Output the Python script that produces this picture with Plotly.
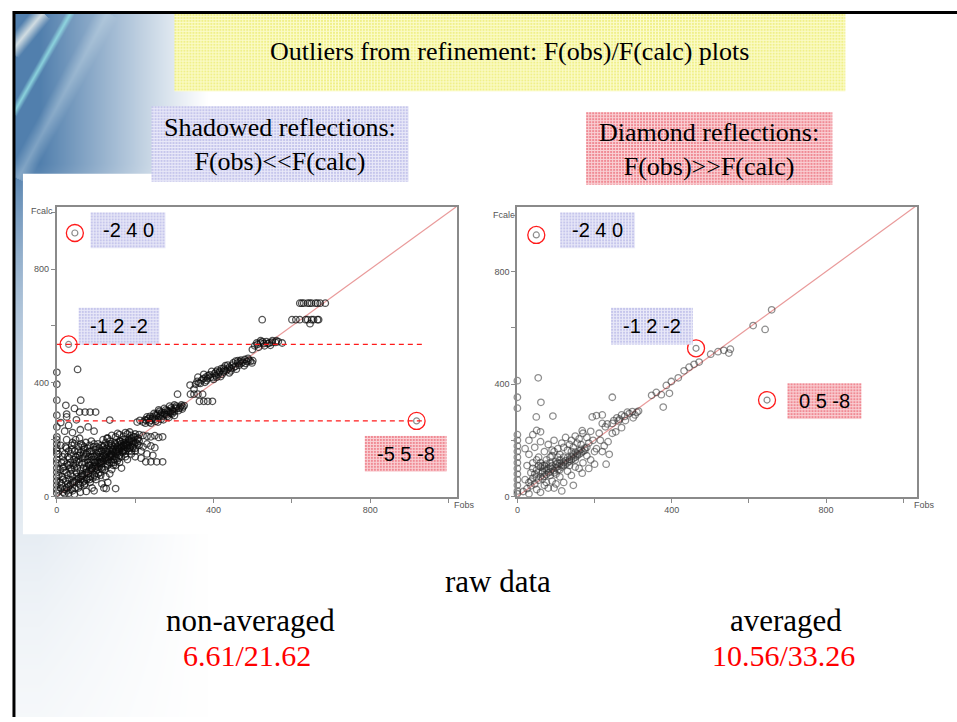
import base64
import struct
import zlib

import numpy as np
import plotly.graph_objects as go

W, H = 957, 722

# ---------------- data: (Fobs, Fcalc) pairs ----------------
# non-averaged data (left panel)
raw_axis_col = [(0, 12), (0, 25), (0, 40), (0, 55), (0, 70), (0, 85), (0, 100), (0, 118),
                (0, 130), (0, 150), (0, 160), (0, 170), (0, 185), (0, 200), (0, 210),
                (0, 245), (0, 286), (0, 339), (0, 395), (0, 437), (4, 150), (5, 75)]
raw_blob = [(10, 30), (15, 60), (18, 90), (12, 120), (20, 150), (22, 175), (25, 200), (28, 45),
            (30, 110), (32, 135), (35, 80), (38, 165), (40, 190), (42, 55), (45, 100), (48, 140),
            (50, 125), (52, 70), (55, 160), (58, 205), (60, 90), (62, 60), (65, 115), (68, 150),
            (70, 175), (72, 45), (75, 95), (78, 130), (80, 80), (82, 110), (85, 160), (88, 140),
            (90, 100), (92, 65), (95, 185), (98, 120), (100, 90), (102, 150), (105, 105), (108, 170),
            (110, 130), (112, 75), (115, 115), (118, 200), (120, 145), (122, 95), (125, 160),
            (128, 125), (130, 110), (132, 180), (135, 140), (138, 150), (140, 120), (142, 165),
            (145, 130), (148, 190), (150, 150), (152, 135), (155, 175), (158, 160), (160, 145),
            (162, 195), (165, 170), (168, 155), (170, 180), (172, 165), (175, 200), (178, 185),
            (180, 170), (185, 190), (188, 175), (190, 205), (195, 195), (198, 185), (200, 210),
            (205, 200), (210, 195), (15, 140), (25, 170), (35, 120), (45, 185), (55, 130),
            (65, 180), (75, 150), (85, 125), (95, 140), (105, 185), (115, 160), (125, 190),
            (18, 105), (28, 75), (38, 95), (48, 115), (58, 145), (68, 100), (78, 170), (88, 195),
            (98, 165), (108, 140), (118, 175), (128, 205), (138, 185), (8, 50), (8, 95), (10, 180)]
raw_blob_core = [(5, 20), (12, 45), (14, 70), (16, 100), (18, 125), (22, 55), (24, 85), (26, 115),
                 (28, 140), (30, 160), (32, 60), (34, 100), (36, 150), (38, 180), (40, 70),
                 (42, 110), (44, 130), (46, 160), (48, 200), (50, 85), (52, 100), (54, 145),
                 (56, 175), (58, 120), (60, 155), (62, 185), (64, 80), (66, 135), (68, 165),
                 (70, 120), (72, 140), (74, 190), (76, 105), (78, 155), (80, 120), (82, 140),
                 (84, 180), (86, 110), (88, 160), (90, 130), (92, 150), (94, 175), (96, 120),
                 (98, 100), (100, 140), (102, 175), (104, 125), (106, 155), (108, 120), (110, 160),
                 (112, 140), (114, 180), (116, 135), (118, 150), (120, 165), (122, 180), (124, 140),
                 (126, 150), (128, 170), (130, 155), (132, 130), (134, 165), (136, 195), (138, 170),
                 (140, 180), (142, 145), (144, 160), (146, 175), (148, 140), (150, 185), (152, 165),
                 (154, 150), (156, 190), (158, 180), (160, 195), (164, 185), (166, 160), (168, 200),
                 (172, 190), (174, 175), (176, 160), (182, 180), (184, 200), (186, 170), (192, 185),
                 (194, 175), (196, 210), (202, 190), (206, 185), (208, 205), (100, 70), (106, 80),
                 (116, 95), (124, 105), (134, 120), (144, 110), (154, 125), (164, 140), (174, 150),
                 (184, 160), (194, 170), (60, 40), (66, 50), (76, 60), (86, 70), (96, 75), (46, 30),
                 (36, 25), (26, 20), (16, 15), (56, 45), (70, 55), (84, 60), (104, 95), (114, 100),
                 (128, 115), (146, 120), (158, 135), (170, 160)]
raw_diag = [(20, 25), (25, 30), (30, 35), (35, 42), (40, 48), (45, 52), (50, 58), (55, 62),
            (60, 68), (65, 72), (70, 78), (75, 85), (80, 88), (85, 95), (90, 98), (95, 105),
            (100, 108), (105, 115), (110, 118), (115, 125), (120, 128), (125, 135), (130, 138),
            (135, 145), (140, 148), (145, 155), (150, 158), (155, 165), (160, 168), (165, 175),
            (170, 178), (175, 185), (180, 190), (185, 195), (190, 198), (62, 74), (88, 92),
            (112, 122), (138, 140), (162, 172), (178, 182)]
raw_below = [(40, 20), (55, 30), (70, 40), (85, 50), (100, 60), (115, 45), (125, 70), (90, 30),
             (60, 15), (110, 85), (140, 95), (150, 110), (135, 80), (160, 120), (175, 140),
             (120, 30), (95, 20), (75, 18), (165, 100), (180, 130), (190, 150), (200, 160),
             (130, 50), (150, 28), (126, 28), (30, 12), (45, 8), (20, 10), (80, 65)]
raw_band = [(130, 205), (140, 215), (150, 210), (160, 218), (170, 212), (180, 220), (190, 215),
            (200, 220), (210, 218), (220, 215), (230, 212), (240, 210), (250, 214), (260, 208),
            (270, 210), (155, 222), (175, 225), (210, 180), (220, 175), (230, 185), (240, 178),
            (250, 172), (200, 170), (215, 160), (230, 150), (245, 145), (190, 160), (227, 122),
            (240, 122), (255, 122), (270, 122), (215, 135), (200, 140), (186, 227), (135, 269)]
raw_above = [(20, 230), (30, 250), (60, 235), (80, 245), (25, 280), (25, 290), (23, 321),
             (61, 339), (58, 297), (72, 297), (85, 297), (99, 297), (53, 447), (10, 260),
             (40, 225), (95, 230), (50, 270), (45, 310)]
raw_mid = [(220, 262), (228, 268), (235, 275), (240, 268), (245, 280), (250, 272), (255, 285),
           (260, 278), (265, 290), (270, 283), (275, 295), (280, 288), (285, 300), (290, 292),
           (295, 305), (300, 298), (305, 310), (310, 302), (315, 315), (320, 308), (325, 320),
           (230, 280), (248, 292), (262, 300), (278, 305), (292, 312), (305, 318), (318, 322),
           (240, 258), (258, 262), (272, 270), (286, 278), (300, 285), (212, 268), (205, 262),
           (308, 360), (341, 360), (350, 360), (360, 360), (372, 360), (364, 335), (375, 335),
           (385, 335), (397, 335), (340, 392), (350, 378), (225, 270), (232, 272), (238, 282),
           (244, 275), (252, 288), (258, 292), (264, 284), (268, 296), (276, 290), (282, 302),
           (288, 296), (296, 300), (302, 312), (312, 310), (322, 315), (236, 262), (252, 265),
           (266, 272), (282, 282), (294, 290), (226, 258), (260, 305), (274, 310), (288, 318),
           (300, 322)]
raw_upper = [(354, 395), (362, 400), (370, 410), (378, 402), (385, 415), (392, 420), (400, 412),
             (405, 425), (412, 430), (418, 422), (425, 438), (432, 442), (440, 435), (445, 450),
             (452, 455), (458, 448), (465, 462), (470, 468), (478, 460), (485, 475), (490, 480),
             (498, 470), (360, 420), (375, 430), (395, 440), (410, 445), (430, 460), (450, 470),
             (470, 480), (440, 455), (420, 450), (386, 425), (402, 432), (468, 475), (480, 482),
             (500, 478), (499, 517), (505, 530), (512, 535), (520, 540), (528, 538), (535, 545),
             (542, 540), (550, 548), (558, 542), (565, 545), (575, 540), (520, 548), (545, 532),
             (515, 525), (524, 622), (600, 622), (610, 622), (620, 622), (635, 622), (650, 622),
             (665, 622), (646, 608), (620, 680), (630, 680), (640, 680), (650, 680), (660, 680),
             (672, 680), (685, 680), (358, 405), (366, 398), (374, 415), (382, 408), (390, 428),
             (398, 418), (406, 438), (414, 436), (422, 430), (428, 445), (436, 448), (444, 442),
             (448, 462), (456, 458), (462, 470), (474, 472), (482, 468), (488, 486), (494, 476),
             (380, 420), (408, 420), (436, 462), (462, 478), (416, 440), (426, 452), (456, 476),
             (530, 530), (538, 538), (548, 542), (560, 548), (510, 540), (525, 545), (640, 622),
             (655, 622), (625, 680), (645, 680), (665, 680), (668, 622)]
raw_outliers = [(46, 927), (30, 535), (918, 266)]
raw_outlier_hkl = ["-2 4 0", "-1 2 -2", "-5 5 -8"]

# averaged data (right panel)
avg_axis_col = [(0, 10), (0, 20), (0, 40), (0, 60), (0, 80), (0, 100), (0, 120), (0, 140),
                (0, 160), (0, 180), (0, 200), (0, 220), (0, 314), (0, 353), (0, 412)]
avg_diag = [(15, 18), (25, 28), (35, 38), (45, 45), (55, 58), (65, 62), (75, 78), (85, 88),
            (95, 92), (105, 108), (115, 112), (125, 128), (135, 132), (145, 148), (155, 152),
            (165, 168), (175, 172), (185, 190), (60, 70), (70, 72), (80, 85), (90, 98),
            (100, 102), (110, 118), (120, 122), (130, 138), (140, 142), (150, 158), (160, 162)]
avg_above = [(20, 60), (25, 110), (30, 150), (35, 85), (40, 120), (45, 175), (50, 95), (55, 140),
             (60, 195), (65, 110), (70, 160), (75, 130), (80, 185), (85, 105), (90, 145),
             (95, 200), (100, 125), (105, 170), (110, 150), (115, 190), (120, 140), (125, 210),
             (130, 165), (135, 185), (140, 200), (145, 175), (150, 215), (155, 190), (160, 205),
             (170, 225), (180, 210), (190, 232), (30, 200), (40, 220), (50, 235), (60, 230),
             (20, 170), (35, 55), (50, 70), (70, 100), (85, 120), (100, 80), (110, 95), (75, 50),
             (65, 90), (45, 80), (120, 175), (140, 160), (165, 185), (90, 165), (105, 140),
             (55, 110), (135, 110), (150, 130), (54, 422), (61, 335), (49, 283), (92, 286)]
avg_core = [(40, 100), (50, 130), (60, 120), (70, 110), (80, 100), (90, 110), (100, 115),
            (110, 130), (120, 110), (130, 120), (140, 130), (150, 140), (160, 150), (170, 160),
            (180, 175), (65, 85), (75, 95), (85, 75), (95, 85), (105, 95), (115, 105), (125, 115),
            (135, 125), (145, 135), (155, 145), (165, 155), (175, 165), (30, 50), (40, 65),
            (55, 85), (60, 105), (75, 115), (85, 140), (95, 160), (105, 120)]
avg_below = [(30, 10), (50, 25), (70, 40), (90, 55), (110, 70), (130, 90), (150, 105), (170, 120),
             (120, 50), (95, 30), (60, 15), (80, 30), (140, 75), (160, 100), (180, 145),
             (200, 160), (115, 20), (100, 45), (145, 40), (185, 100), (168, 83)]
avg_mid = [(168, 234), (190, 130), (205, 170), (215, 200), (225, 180), (238, 150), (230, 115),
           (200, 115), (220, 160), (235, 195), (246, 225), (196, 200), (212, 225), (228, 248),
           (194, 283), (205, 288), (220, 290), (220, 260), (233, 258), (246, 260), (246, 353),
           (250, 270), (258, 280), (265, 275), (270, 290), (278, 285), (285, 300), (290, 295),
           (298, 302), (305, 290), (310, 300), (314, 304), (262, 269), (280, 270), (300, 280),
           (255, 230), (270, 245)]
avg_upper = [(348, 360), (360, 370), (373, 362), (378, 318), (394, 367), (386, 395), (399, 409),
             (417, 422), (432, 447), (445, 460), (458, 470), (471, 478), (501, 506), (520, 515),
             (535, 520), (552, 524), (548, 510), (611, 608), (642, 594), (659, 664)]
avg_outliers = [(49, 930), (463, 527), (647, 343)]
avg_outlier_hkl = ["-2 4 0", "-1 2 -2", "0 5 -8"]

identity_line = [0, 1040]
raw_cut_levels = [535, 266]

caption_top = "Outliers from refinement: F(obs)/F(calc) plots"
caption_left = "Shadowed reflections:<br>F(obs)<<F(calc)"
caption_right = "Diamond reflections:<br>F(obs)>>F(calc)"
r_factors = ["6.61/21.62", "10.56/33.26"]


# ---------------- helpers ----------------
def px(x):
    return x / W


def py(y):
    return 1 - y / H


def unzip(*groups):
    xs, ys = [], []
    for g in groups:
        for a, b in g:
            xs.append(a)
            ys.append(b)
    return xs, ys


def png_uri(rgb):
    """Encode an HxWx3 uint8 array as a PNG data URI."""
    h, w, _ = rgb.shape
    raw = b"".join(b"\x00" + rgb[r].tobytes() for r in range(h))

    def chunk(tag, data):
        return (struct.pack(">I", len(data)) + tag + data
                + struct.pack(">I", zlib.crc32(tag + data) & 0xFFFFFFFF))

    png = (b"\x89PNG\r\n\x1a\n"
           + chunk(b"IHDR", struct.pack(">IIBBBBB", w, h, 8, 2, 0, 0, 0))
           + chunk(b"IDAT", zlib.compress(raw, 9))
           + chunk(b"IEND", b""))
    return "data:image/png;base64," + base64.b64encode(png).decode()


def textured(w, h, base, light):
    """Small dotted-grid fill used for the slide's text boxes."""
    arr = np.empty((h, w, 3), dtype=np.uint8)
    arr[:] = base
    mask = (np.arange(w)[None, :] % 3 == 2) | (np.arange(h)[:, None] % 3 == 2)
    arr[mask] = light
    return arr


def slide_corner(x0, y0, w, h):
    """Blue wash with light streaks for the slide's upper-left corner."""
    X = np.arange(w)[None, :] + x0 + 0.5
    Y = np.arange(h)[:, None] + y0 + 0.5
    ax = np.clip((205 - X) / 168, 0, 1) ** 1.1 * 0.92
    ay = np.where(Y < 165, 1.0, np.exp(-(Y - 165) / 190))
    a = (ax * ay)[..., None]
    blue = np.array([66, 116, 166], dtype=float)
    img = 255 * (1 - a) + blue * a

    def streak(img, p0, p1, half, color, strength):
        p0 = np.array(p0, float)
        p1 = np.array(p1, float)
        d = p1 - p0
        L = np.hypot(*d)
        u = d / L
        rx, ry = X - p0[0], Y - p0[1]
        t = rx * u[0] + ry * u[1]
        dist = np.abs(rx * u[1] - ry * u[0])
        wgt = np.clip(1 - dist / half, 0, 1) * ((t > 0) & (t < L)) * strength
        wgt = (wgt * np.clip(ax / 0.5, 0, 1))[..., None]
        return img * (1 - wgt) + np.array(color, float) * wgt

    img = streak(img, (40, 13), (8, 52), 10, (232, 238, 236), 0.85)
    img = streak(img, (68, 13), (10, 115), 4.5, (150, 226, 230), 0.85)
    img = streak(img, (105, 13), (15, 180), 12, (215, 232, 240), 0.35)
    return np.clip(img, 0, 255).astype(np.uint8)


SERIF = "Liberation Serif, Times New Roman, serif"
SANS = "Liberation Sans, Arial, sans-serif"
LAV = ((198, 198, 236), (234, 234, 249))
PINK = ((240, 138, 148), (250, 210, 214))
YELLOW = ((240, 240, 138), (252, 252, 204))

fig = go.Figure()

raw_x, raw_y = unzip(raw_axis_col, raw_blob, raw_blob_core, raw_diag, raw_below, raw_band,
                     raw_above, raw_mid, raw_upper)
avg_x, avg_y = unzip(avg_axis_col, avg_diag, avg_above, avg_core, avg_below, avg_mid, avg_upper)

panels = [
    dict(xa="x", ya="y", xs=raw_x, ys=raw_y, out=raw_outliers, col="rgba(12,12,12,0.7)"),
    dict(xa="x2", ya="y2", xs=avg_x, ys=avg_y, out=avg_outliers, col="rgba(50,50,50,0.55)"),
]
for p in panels:
    fig.add_trace(go.Scatter(x=identity_line, y=identity_line, mode="lines",
                             line=dict(color="rgba(225,120,120,0.75)", width=1.2),
                             xaxis=p["xa"], yaxis=p["ya"], hoverinfo="skip"))
    fig.add_trace(go.Scatter(x=p["xs"], y=p["ys"], mode="markers",
                             marker=dict(symbol="circle-open", size=6.5, color=p["col"],
                                         line=dict(width=1.3)),
                             xaxis=p["xa"], yaxis=p["ya"], cliponaxis=False))
    ox, oy = unzip(p["out"])
    fig.add_trace(go.Scatter(x=ox, y=oy, mode="markers",
                             marker=dict(symbol="circle-open", size=6, color="rgba(120,120,120,0.85)",
                                         line=dict(width=1.2)),
                             xaxis=p["xa"], yaxis=p["ya"], cliponaxis=False))
    fig.add_trace(go.Scatter(x=ox, y=oy, mode="markers",
                             marker=dict(symbol="circle-open", size=17, color="#ff1a1a",
                                         line=dict(width=1.3)),
                             xaxis=p["xa"], yaxis=p["ya"], cliponaxis=False))

images = []


def place(arr, x0, y0, layer):
    h, w, _ = arr.shape
    images.append(dict(source=png_uri(arr), xref="paper", yref="paper", x=px(x0), y=py(y0),
                       sizex=w / W, sizey=h / H, xanchor="left", yanchor="top",
                       sizing="stretch", layer=layer))


place(slide_corner(12, 13, 290, 709), 12, 13, "below")

# title banner, caption boxes and hkl boxes (x0, y0, x1, y1)
boxes = [
    ((172, 14, 845, 92), YELLOW),
    ((149, 107, 407, 183), LAV),
    ((585, 113, 832, 186), PINK),
    ((88, 214, 163, 250), LAV),
    ((76, 310, 157, 347), LAV),
    ((363, 439, 445, 475), PINK),
    ((559, 214, 634, 250), LAV),
    ((610, 310, 692, 347), LAV),
    ((787, 386, 861, 422), PINK),
]
for (x0, y0, x1, y1), (base, light) in boxes:
    place(textured(x1 - x0, y1 - y0, base, light), x0, y0, "above")

shapes = []
# white chart panels
shapes.append(dict(type="rect", xref="paper", yref="paper", x0=px(20), x1=px(488), y0=py(538),
                   y1=py(175), line_width=0, fillcolor="white", layer="below"))
shapes.append(dict(type="rect", xref="paper", yref="paper", x0=px(486), x1=px(957), y0=py(536),
                   y1=py(196), line_width=0, fillcolor="white", layer="below"))
# slide frame
shapes.append(dict(type="line", xref="paper", yref="paper", x0=px(11), x1=px(11), y0=py(722),
                   y1=py(11), line=dict(color="black", width=3)))
shapes.append(dict(type="line", xref="paper", yref="paper", x0=px(10), x1=px(957), y0=py(12.5),
                   y1=py(12.5), line=dict(color="black", width=3)))
# Fcalc cut levels through the shadowed reflections
for lvl in raw_cut_levels:
    shapes.append(dict(type="line", xref="x", yref="y", x0=0, x1=936, y0=lvl, y1=lvl,
                       line=dict(color="#ff1a1a", width=1.2, dash="5px,4px")))

annotations = []


def text(s, x, y, size, color="black", family=SERIF):
    annotations.append(dict(text=s, x=px(x), y=py(y), xref="paper", yref="paper",
                            showarrow=False, xanchor="center", yanchor="middle",
                            font=dict(size=size, color=color, family=family)))


text(caption_top, 508, 52, 26)
text(caption_left, 278, 146, 26)
text(caption_right, 708, 151, 26)
text("raw data", 497, 586, 31)
text("non-averaged", 248, 625, 31)
text("averaged", 785, 625, 31)
text(r_factors[0], 245, 660, 30, color="#ff0000")
text(r_factors[1], 783, 660, 30, color="#ff0000")

hkl_pos = [(125.5, 232), (116.5, 328.5), (404, 457), (596.5, 232), (651, 328.5), (824, 404)]
for s, (x, y) in zip(raw_outlier_hkl + avg_outlier_hkl, hkl_pos):
    text(s, x, y, 20, family=SANS)

# axis captions
for s, x, y in [("Fcalc", 39, 212), ("Fobs", 463, 509), ("Fcalc", 503, 217), ("Fobs", 924, 509)]:
    text(s, x, y, 9, color="#555", family=SANS)

axis_common = dict(showline=True, linecolor="#8a8a8a", linewidth=2, mirror=True,
                   ticks="outside", ticklen=4, tickwidth=1, tickcolor="#8a8a8a",
                   showgrid=False, zeroline=False,
                   tickvals=[0, 200, 400, 600, 800, 1000],
                   ticktext=["0", "", "400", "", "800", ""],
                   tickfont=dict(size=9, color="#555", family=SANS))

fig.update_layout(
    width=W, height=H, margin=dict(l=0, r=0, t=0, b=0),
    paper_bgcolor="white", plot_bgcolor="rgba(0,0,0,0)", showlegend=False,
    shapes=shapes, annotations=annotations, images=images,
    xaxis=dict(domain=[px(54), px(455)], range=[0, 1020], anchor="y", **axis_common),
    yaxis=dict(domain=[py(500), py(208)], range=[0, 1020], anchor="x", **axis_common),
    xaxis2=dict(domain=[px(516), px(917)], range=[0, 1036], anchor="y2", **axis_common),
    yaxis2=dict(domain=[py(500), py(208)], range=[0, 1031], anchor="x2", **axis_common),
)

fig.write_html("out.html")
